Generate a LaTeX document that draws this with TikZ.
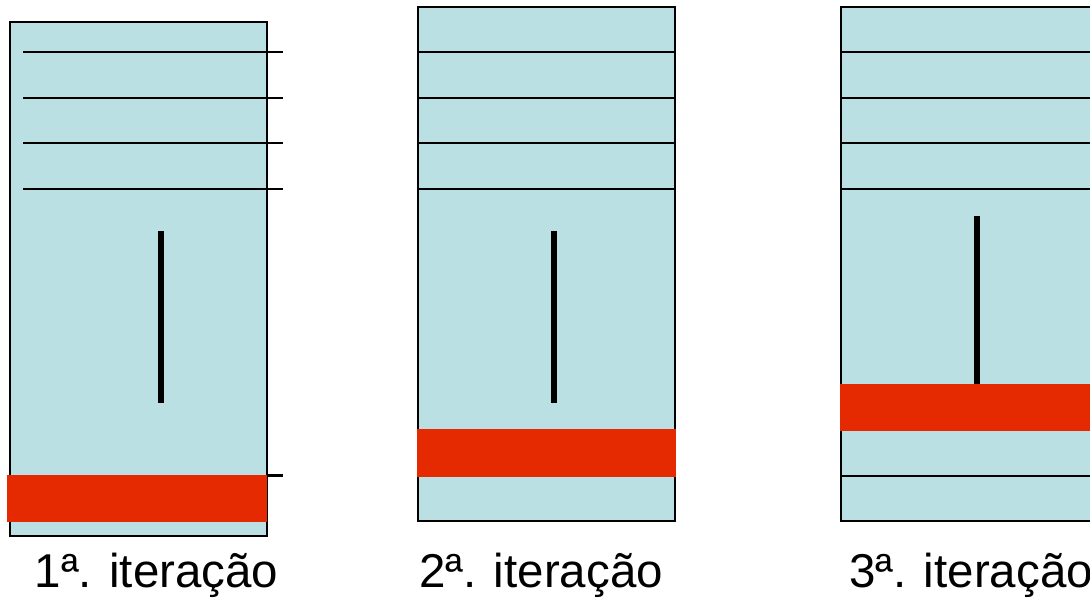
\documentclass[tikz,border=0pt]{standalone}
\usepackage{fontspec}
\setmainfont{Liberation Sans}
\definecolor{cellblue}{RGB}{187,224,227}
\definecolor{barred}{RGB}{229,41,0}
\begin{document}
\begin{tikzpicture}[x=1pt,y=-1pt,
  panel/.style={fill=cellblue,draw=black,line width=2.5pt},
  rowline/.style={draw=black,line width=2.5pt},
  pointer/.style={draw=black,line width=6pt},
  bar/.style={fill=barred},
  caption/.style={anchor=base,inner sep=0pt,font=\fontsize{47.5}{56}\selectfont}]
\useasboundingbox (0,0) rectangle (1090,600);
\clip (0,0) rectangle (1090,600);
% ---------- panel 1 ----------
\path[panel] (10,22) rectangle (267,536);
\foreach \y in {52,98,143,189} \draw[rowline] (23,\y) -- (283,\y);
\draw[rowline] (267,475.5) -- (283,475.5);
\draw[pointer] (160.5,231) -- (160.5,403);
\fill[bar] (7,475) rectangle (267,522);
\node[caption] (c1) at (156.5,587) {1ª. iteração};
% ---------- panel 2 ----------
\path[panel] (418,7) rectangle (675,521);
\foreach \y in {52,98,143,189} \draw[rowline] (418,\y) -- (675,\y);
\draw[pointer] (554,231) -- (554,403);
\fill[bar] (417,429) rectangle (676,477);
\node[caption] (c2) at (541,587) {2ª. iteração};
% ---------- panel 3 ----------
\path[panel] (841,7) rectangle (1110,521);
\foreach \y in {52,98,143,189,476} \draw[rowline] (841,\y) -- (1100,\y);
\draw[pointer] (977,216) -- (977,385);
\fill[bar] (840,384) rectangle (1100,431);
\node[caption] (c3) at (971,587) {3ª. iteração};
\end{tikzpicture}
\end{document}
